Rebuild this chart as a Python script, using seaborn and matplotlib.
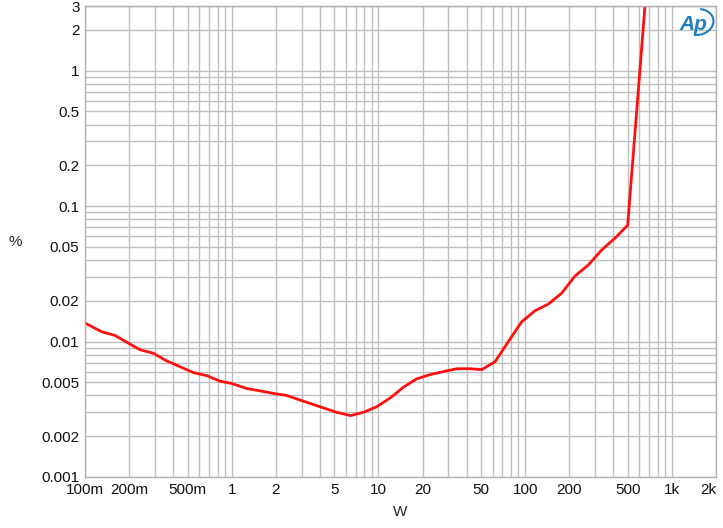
import numpy as np
import pandas as pd
import matplotlib
matplotlib.use("Agg")
import matplotlib.pyplot as plt
import seaborn as sns
from matplotlib.patches import Arc

# --- DATI ---
power_w = [0.1, 0.13, 0.16, 0.192, 0.237, 0.292, 0.36, 0.433, 0.547, 0.676,
           0.832, 1.0, 1.265, 1.6, 2.03, 2.37, 2.92, 4.0, 5.2, 6.47,
           7.89, 9.73, 12.3, 14.8, 18.2, 22.5, 27.7, 34.2, 42.1, 50.6,
           62.4, 76.9, 94.8, 117, 144, 177, 219, 270, 333, 410,
           500, 680]
thd_pct = [0.0137, 0.0118, 0.0111, 0.0099, 0.0087, 0.0082, 0.0072, 0.0066, 0.0059, 0.0056,
           0.0051, 0.0049, 0.0045, 0.0043, 0.0041, 0.0040, 0.0037, 0.0033, 0.0030, 0.00284,
           0.0030, 0.0033, 0.0039, 0.0046, 0.0053, 0.0057, 0.0060, 0.0063, 0.0063, 0.0062,
           0.0071, 0.0100, 0.0140, 0.0169, 0.0189, 0.0227, 0.0305, 0.0368, 0.0475, 0.058,
           0.0722, 4.9]

x_ticks = [0.1, 0.2, 0.5, 1, 2, 5, 10, 20, 50, 100, 200, 500, 1000, 2000]
x_labels = ["100m", "200m", "500m", "1", "2", "5", "10", "20", "50", "100", "200", "500", "1k", "2k"]
y_ticks = [0.001, 0.002, 0.005, 0.01, 0.02, 0.05, 0.1, 0.2, 0.5, 1, 2, 3]
y_labels = ["0.001", "0.002", "0.005", "0.01", "0.02", "0.05", "0.1", "0.2", "0.5", "1", "2", "3"]

df = pd.DataFrame({"W": power_w, "pct": thd_pct})

# --- STILE ---
sns.set_style("white")
plt.rcParams["font.family"] = ["Liberation Sans", "DejaVu Sans"]

fig = plt.figure(figsize=(7.23, 5.28), dpi=100)
ax = fig.add_axes([0.1176, 0.0966, 0.8727, 0.892])

sns.lineplot(data=df, x="W", y="pct", color="#ff1010", linewidth=2, ax=ax)

ax.set_xscale("log")
ax.set_yscale("log")
ax.set_xlim(0.1, 2000)
ax.set_ylim(0.001, 3)

ax.grid(True, which="both", color="#bfbfbf", linewidth=1)
ax.set_axisbelow(True)
ax.set_xticks(x_ticks)
ax.set_xticklabels(x_labels)
ax.set_yticks(y_ticks)
ax.set_yticklabels(y_labels)
ax.tick_params(which="both", length=0, labelsize=11, colors="#111111", pad=4)
# griglia minore 2..9 per decade
ax.xaxis.set_minor_locator(matplotlib.ticker.LogLocator(base=10, subs=np.arange(2, 10)))
ax.yaxis.set_minor_locator(matplotlib.ticker.LogLocator(base=10, subs=np.arange(2, 10)))
ax.xaxis.set_minor_formatter(plt.NullFormatter())
ax.yaxis.set_minor_formatter(plt.NullFormatter())

# ultima etichetta "2k" allineata al bordo destro
ax.get_xticklabels()[-1].set_horizontalalignment("right")

for s in ax.spines.values():
    s.set_color("#b0b0b0")
    s.set_linewidth(1)

ax.set_xlabel("W", fontsize=11, labelpad=6)
ax.set_ylabel("")
fig.text(15 / 723, 1 - 242 / 528, "%", fontsize=11, ha="center", va="center")

# --- LOGO AP ---
fig.text(693 / 723, 1 - 24 / 528, "Ap", fontsize=15, style="italic", fontweight="bold",
         color="#1f7fc0", ha="center", va="center")
arc = Arc((697 / 723, 1 - 22 / 528), 0.045, 0.05, angle=-20, theta1=-80, theta2=100,
          transform=fig.transFigure, color="#1f7fc0", linewidth=1.5)
fig.add_artist(arc)

plt.savefig("out.png", dpi=100)
